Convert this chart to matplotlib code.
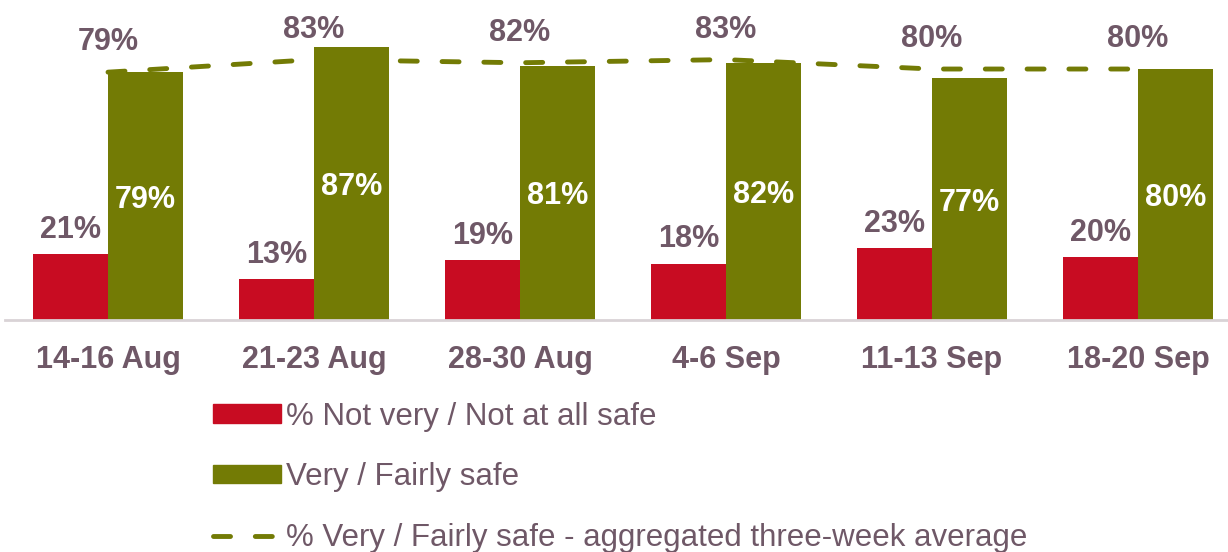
import matplotlib.pyplot as plt
import numpy as np
from matplotlib.patches import Patch
from matplotlib.lines import Line2D

plt.rcParams['font.family'] = ['Liberation Sans', 'DejaVu Sans']

weeks = ['14-16 Aug', '21-23 Aug', '28-30 Aug', '4-6 Sep', '11-13 Sep', '18-20 Sep']
not_safe = [21, 13, 19, 18, 23, 20]
safe = [79, 87, 81, 82, 77, 80]
three_week_avg = [79, 83, 82, 83, 80, 80]

red = '#C80C22'
green = '#737B05'
txt = '#6F5867'

fig = plt.figure(figsize=(12.28, 5.52), dpi=100)
ax = fig.add_axes([5 / 1228, 232 / 552, 1236 / 1228, 320 / 552])

x = np.arange(len(weeks))
w = 0.364
ax.bar(x - w / 2, not_safe, w, color=red, label='% Not very / Not at all safe')
ax.bar(x + w / 2, safe, w, color=green, label='Very / Fairly safe')
ax.plot(x, three_week_avg, color=green, lw=3.5, dashes=(3.5, 5.1),
        dash_capstyle='round', label='% Very / Fairly safe - aggregated three-week average')

for i in range(len(weeks)):
    ax.annotate(f'{not_safe[i]}%', (x[i] - w / 2, not_safe[i]), xytext=(0, 20),
                textcoords='offset points', ha='center', va='center_baseline',
                fontsize=22, fontweight='bold', color=txt)
    ax.text(x[i] + w / 2, safe[i] / 2, f'{safe[i]}%', ha='center', va='center_baseline',
            fontsize=22, fontweight='bold', color='white')
    ax.annotate(f'{three_week_avg[i]}%', (x[i], three_week_avg[i]), xytext=(0, 24),
                textcoords='offset points', ha='center', va='center_baseline',
                fontsize=22, fontweight='bold', color=txt)

ax.set_xlim(-0.5, 5.5)
ax.set_ylim(0, 102)
ax.set_xticks(x)
ax.set_xticklabels(weeks, fontsize=22, fontweight='bold', color=txt)
ax.tick_params(axis='x', length=0, pad=18)
ax.set_yticks([])
for s in ['top', 'right', 'left']:
    ax.spines[s].set_visible(False)
ax.spines['bottom'].set_color('#D9D3D6')
ax.spines['bottom'].set_linewidth(2)

handles = [Patch(color=red), Patch(color=green),
           Line2D([0], [0], color=green, lw=3.5, dashes=(3.5, 5.1), dash_capstyle='round')]
labels = ['% Not very / Not at all safe', 'Very / Fairly safe',
          '% Very / Fairly safe - aggregated three-week average']
leg = fig.legend(handles, labels, loc='upper left', bbox_to_anchor=(200 / 1228, 1 - 389 / 552),
                 frameon=False, fontsize=22.5, handlelength=2.2, handleheight=0.55,
                 handletextpad=0.15, labelspacing=0.98, borderaxespad=0)
for t in leg.get_texts():
    t.set_color(txt)

fig.savefig('out.png', dpi=100)
